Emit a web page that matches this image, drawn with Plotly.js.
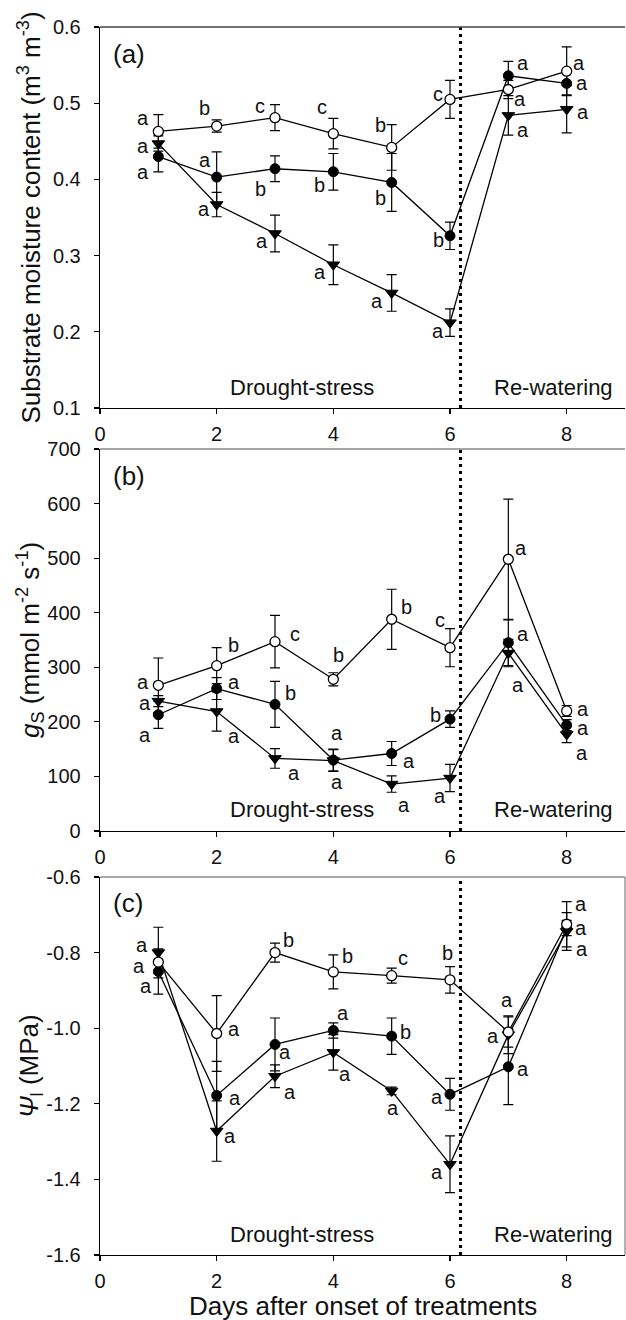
<!DOCTYPE html>
<html>
<head>
<meta charset="utf-8">
<script src="https://cdn.plot.ly/plotly-3.0.1.min.js"></script>
<style>html,body{margin:0;padding:0;background:#fff;}</style>
</head>
<body>
<div id="chart" style="width:626px;height:1320px;"></div>
<script>
// ---------- data ----------
const days = [1, 2, 3, 4, 5, 6, 7, 8];

// (a) substrate moisture content (m3 m-3)
const smcControl   = [0.463, 0.470, 0.481, 0.460, 0.442, 0.505, 0.518, 0.542];
const smcControlSE = [0.022, 0.008, 0.017, 0.020, 0.030, 0.025, 0.012, 0.032];
const smcMild      = [0.430, 0.403, 0.414, 0.410, 0.396, 0.326, 0.536, 0.526];
const smcMildSE    = [0.020, 0.033, 0.017, 0.024, 0.038, 0.018, 0.019, 0.015];
const smcSevere    = [0.447, 0.367, 0.329, 0.288, 0.251, 0.212, 0.484, 0.492];
const smcSevereSE  = [0.010, 0.016, 0.024, 0.026, 0.024, 0.018, 0.026, 0.031];
const smcControlLetters = ['a','b','c','c','b','c','a','a'];
const smcMildLetters    = ['a','a','b','b','b','b','a','a'];
const smcSevereLetters  = ['a','a','a','a','a','a','a','a'];

// (b) stomatal conductance gs (mmol m-2 s-1)
const gsControl   = [267, 303, 347, 278, 388, 336, 498, 220];
const gsControlSE = [50, 33, 48, 12, 55, 35, 110, 10];
const gsMild      = [213, 261, 232, 130, 142, 205, 345, 194];
const gsMildSE    = [25, 20, 42, 20, 22, 15, 42, 10];
const gsSevere    = [238, 219, 133, 129, 86, 97, 326, 177];
const gsSevereSE  = [10, 36, 18, 20, 15, 25, 25, 15];
const gsControlLetters = ['a','b','c','b','b','c','a','a'];
const gsMildLetters    = ['a','a','b','a','a','b','a','a'];
const gsSevereLetters  = ['a','a','a','a','a','a','a','a'];

// (c) leaf water potential (MPa)
const lwpControl   = [-0.825, -1.014, -0.800, -0.851, -0.861, -0.872, -1.010, -0.725];
const lwpControlSE = [0.030, 0.100, 0.025, 0.045, 0.020, 0.035, 0.040, 0.060];
const lwpMild      = [-0.850, -1.178, -1.043, -1.006, -1.021, -1.175, -1.102, -0.735];
const lwpMildSE    = [0.060, 0.090, 0.070, 0.020, 0.048, 0.042, 0.100, 0.020];
const lwpSevere    = [-0.800, -1.272, -1.127, -1.064, -1.166, -1.360, -1.017, -0.744];
const lwpSevereSE  = [0.067, 0.080, 0.030, 0.047, 0.010, 0.075, 0.050, 0.050];
const lwpControlLetters = ['a','a','b','b','c','b','a','a'];
const lwpMildLetters    = ['a','a','a','a','b','a','a','a'];
const lwpSevereLetters  = ['a','a','a','a','a','a','a','a'];

// tick labels
const xTicks = [0, 2, 4, 6, 8];
const smcTicks = [0.1, 0.2, 0.3, 0.4, 0.5, 0.6];
const smcTickText = ['0.1', '0.2', '0.3', '0.4', '0.5', '0.6'];
const gsTicks = [0, 100, 200, 300, 400, 500, 600, 700];
const gsTickText = ['0', '100', '200', '300', '400', '500', '600', '700'];
const lwpTicks = [-1.6, -1.4, -1.2, -1.0, -0.8, -0.6];
const lwpTickText = ['-1.6', '-1.4', '-1.2', '-1.0', '-0.8', '-0.6'];

const rewaterDay = 6.18;

// ---------- styles / label offsets (pixels: [dx, dy], dy positive = down) ----------
const offs = {
  a: {
    c: [[-15,-13],[-12,-18],[-15,-12],[-11,-27],[-11,-22],[-12,-5],[12,10],[12,-8]],
    m: [[-15,15],[-12,-17],[-15,20],[-14,13],[-11,16],[-12,4],[15,-13],[15,0]],
    s: [[-15,2],[-13,4],[-13,7],[-13,7],[-15,8],[-12,8],[15,15],[16,3]]
  },
  b: {
    c: [[-15,-3],[17,-21],[20,-8],[5,-24],[15,-12],[-10,-28],[13,-11],[16,-2]],
    m: [[-13,20],[17,-7],[15,-11],[4,-27],[17,7],[-15,-4],[15,-9],[16,3]],
    s: [[-13,2],[17,25],[19,15],[4,21],[12,21],[-10,18],[10,32],[15,19]]
  },
  c: {
    c: [[-19,4],[17,-4],[13,-13],[14,-16],[11,-18],[-3,-27],[-1,-32],[14,4]],
    m: [[-12,14],[18,3],[10,8],[10,-17],[14,-4],[-13,3],[15,2],[15,21]],
    s: [[-16,-8],[13,5],[15,16],[12,22],[1,17],[-13,8],[-15,1],[14,-27]]
  }
};

const FONT = 'Arial, "Liberation Sans", Helvetica, sans-serif';
const LW = 1.3;

function series(y, se, xa, ya, kind) {
  let marker;
  if (kind === 'c') marker = {symbol: 'circle', size: 10, color: 'white', line: {color: 'black', width: 1.3}};
  else if (kind === 'm') marker = {symbol: 'circle', size: 10, color: 'black', line: {color: 'black', width: 1}};
  else marker = {symbol: 'triangle-down', size: 11, color: 'black', line: {color: 'black', width: 1}};
  return {
    x: days, y: y, xaxis: xa, yaxis: ya, type: 'scatter', mode: 'lines+markers',
    line: {color: 'black', width: LW}, marker: marker,
    error_y: {type: 'data', array: se, visible: true, color: 'black', thickness: 1.2, width: 5},
    hoverinfo: 'skip'
  };
}

const traces = [
  series(smcSevere, smcSevereSE, 'x', 'y', 's'),
  series(smcMild, smcMildSE, 'x', 'y', 'm'),
  series(smcControl, smcControlSE, 'x', 'y', 'c'),
  series(gsSevere, gsSevereSE, 'x2', 'y2', 's'),
  series(gsMild, gsMildSE, 'x2', 'y2', 'm'),
  series(gsControl, gsControlSE, 'x2', 'y2', 'c'),
  series(lwpSevere, lwpSevereSE, 'x3', 'y3', 's'),
  series(lwpMild, lwpMildSE, 'x3', 'y3', 'm'),
  series(lwpControl, lwpControlSE, 'x3', 'y3', 'c')
];

const annotations = [];
function letters(vals, labs, off, xa, ya) {
  vals.forEach((v, i) => {
    annotations.push({
      x: days[i], y: v, xref: xa, yref: ya, text: labs[i], showarrow: false,
      xanchor: 'center', yanchor: 'middle',
      xshift: off[i][0], yshift: -off[i][1],
      font: {family: FONT, size: 20, color: '#111'}
    });
  });
}
letters(smcControl, smcControlLetters, offs.a.c, 'x', 'y');
letters(smcMild, smcMildLetters, offs.a.m, 'x', 'y');
letters(smcSevere, smcSevereLetters, offs.a.s, 'x', 'y');
letters(gsControl, gsControlLetters, offs.b.c, 'x2', 'y2');
letters(gsMild, gsMildLetters, offs.b.m, 'x2', 'y2');
letters(gsSevere, gsSevereLetters, offs.b.s, 'x2', 'y2');
letters(lwpControl, lwpControlLetters, offs.c.c, 'x3', 'y3');
letters(lwpMild, lwpMildLetters, offs.c.m, 'x3', 'y3');
letters(lwpSevere, lwpSevereLetters, offs.c.s, 'x3', 'y3');

const H = 1320, W = 626;
const xdom = [100 / W, 625 / W];
const ydomA = [1 - 408 / H, 1 - 27 / H];
const ydomB = [1 - 831 / H, 1 - 449 / H];
const ydomC = [1 - 1255 / H, 1 - 877 / H];

// panel labels, phase labels
[['x','y','(a)'],['x2','y2','(b)'],['x3','y3','(c)']].forEach(p => {
  annotations.push({xref: p[0] + ' domain', yref: p[1] + ' domain', x: 0.02, y: 0.975,
    xanchor: 'left', yanchor: 'top', text: p[2], showarrow: false,
    font: {family: FONT, size: 26, color: '#111'}});
  annotations.push({xref: p[0], yref: p[1] + ' domain', x: 3.46, y: 0.055,
    xanchor: 'center', yanchor: 'middle', text: 'Drought-stress', showarrow: false,
    font: {family: FONT, size: 22, color: '#111'}});
  annotations.push({xref: p[0], yref: p[1] + ' domain', x: 7.77, y: 0.055,
    xanchor: 'center', yanchor: 'middle', text: 'Re-watering', showarrow: false,
    font: {family: FONT, size: 22, color: '#111'}});
});

// axis titles
const titleFont = {family: FONT, size: 26, color: '#111'};
annotations.push({xref: 'paper', yref: 'paper', x: 30 / W, y: (ydomA[0] + ydomA[1]) / 2, textangle: -90,
  xanchor: 'center', yanchor: 'middle',
  text: 'Substrate moisture content (m<sup>3</sup> m<sup>-3</sup>)', showarrow: false, font: titleFont});
annotations.push({xref: 'paper', yref: 'paper', x: 30 / W, y: (ydomB[0] + ydomB[1]) / 2, textangle: -90,
  xanchor: 'center', yanchor: 'middle',
  text: '<i>g</i><sub>S</sub> (mmol m<sup>-2</sup> s<sup>-1</sup>)', showarrow: false, font: titleFont});
annotations.push({xref: 'paper', yref: 'paper', x: 30 / W, y: (ydomC[0] + ydomC[1]) / 2, textangle: -90,
  xanchor: 'center', yanchor: 'middle',
  text: '<i>Ψ</i><sub>l</sub> (MPa)', showarrow: false, font: titleFont});
annotations.push({xref: 'paper', yref: 'paper', x: 0.5 * (xdom[0] + xdom[1]), y: 1 - 1306 / H,
  xanchor: 'center', yanchor: 'middle',
  text: 'Days after onset of treatments', showarrow: false, font: titleFont});

const shapes = [];
['', '2', '3'].forEach((s, i) => {
  shapes.push({type: 'line', xref: 'x' + s, yref: 'y' + s + ' domain', x0: rewaterDay, x1: rewaterDay,
    y0: 0, y1: 1, line: {color: 'black', width: 3, dash: '3px,4px'}});
  shapes.push({type: 'line', xref: 'x' + s + ' domain', yref: 'y' + s + ' domain', x0: 0, x1: 1, y0: 1, y1: 1,
    line: {color: i === 0 ? '#444' : '#888', width: 1.3}});
});
shapes.push({type: 'line', xref: 'x3 domain', yref: 'y3 domain', x0: 1, x1: 1, y0: 0, y1: 1,
  line: {color: '#888', width: 1.3}});

function xax(anchor) {
  return {domain: xdom, range: [0, 9], anchor: anchor, tickvals: xTicks, ticktext: xTicks.map(String),
    ticks: 'outside', ticklen: 5, tickwidth: 1.2, tickcolor: 'black', showline: true, linecolor: 'black',
    linewidth: 1.3, showgrid: false, zeroline: false, ticklabelstandoff: 3,
    tickfont: {family: FONT, size: 20, color: '#111'}};
}
function yax(anchor, dom, range, tv, tt) {
  return {domain: dom, range: range, anchor: anchor, tickvals: tv, ticktext: tt,
    ticks: 'outside', ticklen: 5, tickwidth: 1.2, tickcolor: 'black', showline: true, linecolor: 'black',
    linewidth: 1.3, showgrid: false, zeroline: false, ticklabelstandoff: 9,
    tickfont: {family: FONT, size: 20, color: '#111'}};
}

const layout = {
  width: W, height: H, margin: {l: 0, r: 0, t: 0, b: 0},
  paper_bgcolor: 'white', plot_bgcolor: 'white', showlegend: false,
  xaxis: xax('y'), xaxis2: xax('y2'), xaxis3: xax('y3'),
  yaxis: yax('x', ydomA, [0.1, 0.6], smcTicks, smcTickText),
  yaxis2: yax('x2', ydomB, [0, 700], gsTicks, gsTickText),
  yaxis3: yax('x3', ydomC, [-1.6, -0.6], lwpTicks, lwpTickText),
  annotations: annotations, shapes: shapes
};

Plotly.newPlot('chart', traces, layout, {staticPlot: true, displayModeBar: false});
</script>
</body>
</html>
